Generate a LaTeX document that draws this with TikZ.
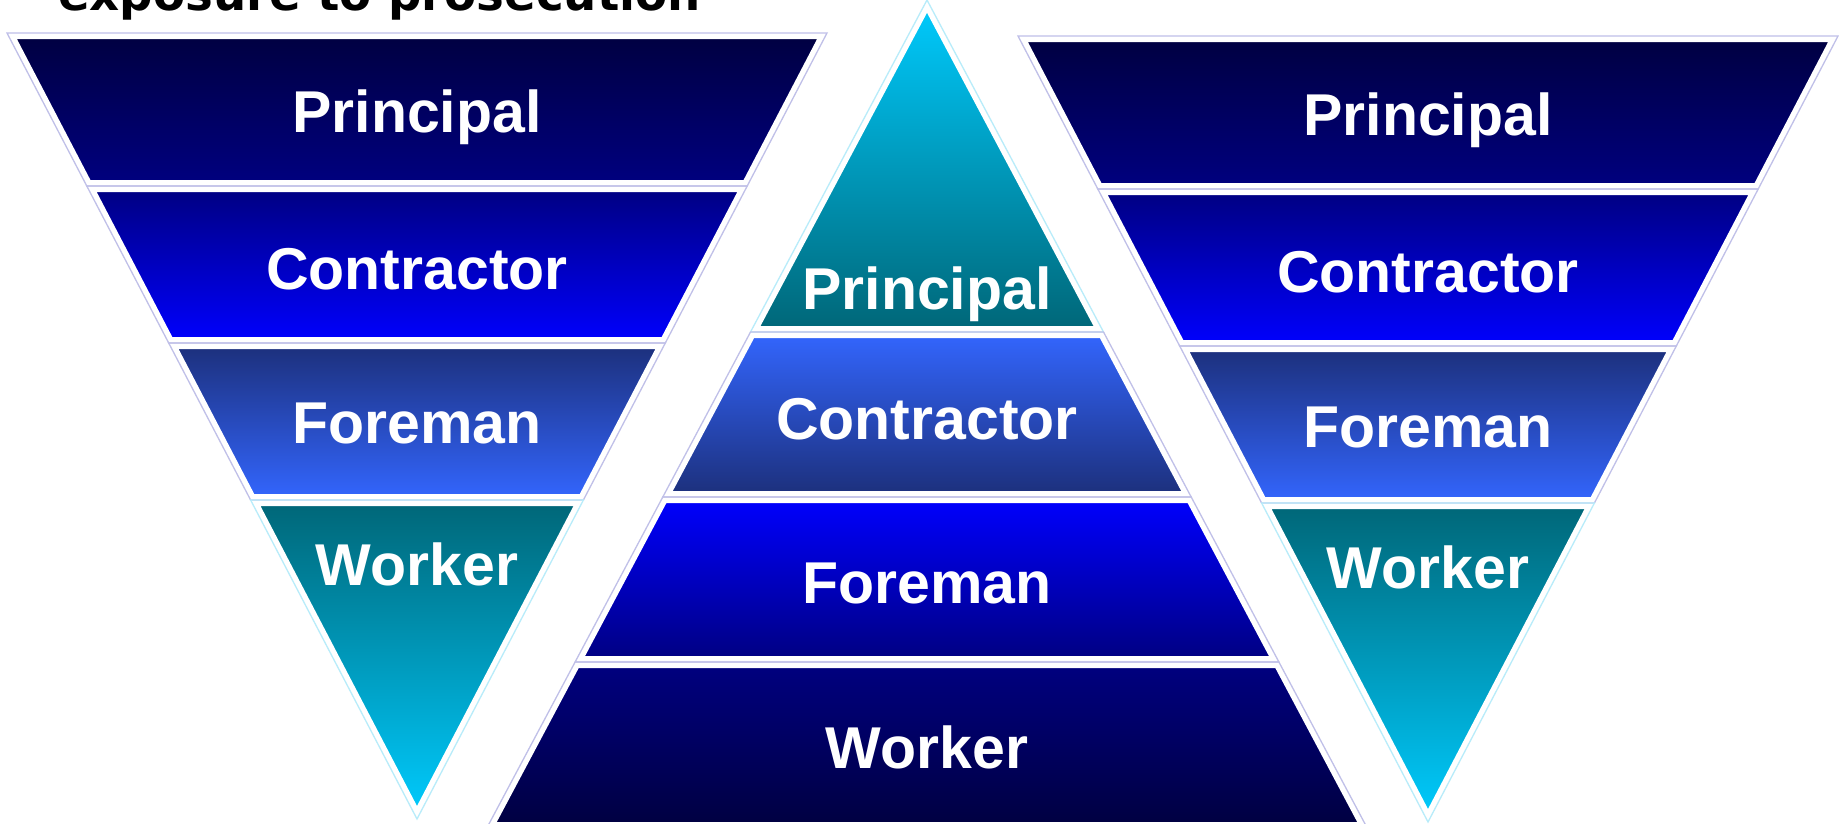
\documentclass[tikz,border=0pt]{standalone}
\usepackage{fontspec}
\setmainfont{Liberation Sans}
\newfontfamily\titlefont{DejaVu Sans}
\definecolor{cNavyD}{HTML}{000040}
\definecolor{cNavy}{HTML}{000080}
\definecolor{cBlue}{HTML}{0000FF}
\definecolor{cSlate}{HTML}{1C2F7A}
\definecolor{cRoyal}{HTML}{3366FF}
\definecolor{cTeal}{HTML}{006677}
\definecolor{cCyan}{HTML}{00CCFF}
\definecolor{rimblue}{HTML}{C0C0E8}
\definecolor{rimcyan}{HTML}{B8ECFA}
\newcommand{\invbands}{%
  \shadedraw[bandstyle, top color=cNavyD, bottom color=cNavy] (7,33) -- (827,33) -- (747.2,186) -- (86.8,186) -- cycle;
  \shadedraw[bandstyle, top color=cNavy, bottom color=cBlue] (86.8,186) -- (747.2,186) -- (665.3,343) -- (168.7,343) -- cycle;
  \shadedraw[bandstyle, top color=cSlate, bottom color=cRoyal] (168.7,343) -- (665.3,343) -- (583.4,500) -- (250.6,500) -- cycle;
  \shadedraw[bandstyle, top color=cTeal, bottom color=cCyan] (250.6,500) -- (583.4,500) -- (417,819) -- cycle;
}
\newcommand{\invrims}{%
  \draw[rimB] (7,33) -- (827,33) -- (747.2,186) -- (86.8,186) -- cycle;
  \draw[rimB] (86.8,186) -- (747.2,186) -- (665.3,343) -- (168.7,343) -- cycle;
  \draw[rimB] (168.7,343) -- (665.3,343) -- (583.4,500) -- (250.6,500) -- cycle;
  \draw[rimC] (250.6,500) -- (583.4,500) -- (417,819) -- cycle;
}
\begin{document}
\begin{tikzpicture}[x=1pt,y=-1pt,
  bandstyle/.style={draw=white, line width=12pt, line join=round},
  rimB/.style={draw=rimblue, line width=1.3pt},
  rimC/.style={draw=rimcyan, line width=1.3pt},
  lbl/.style={text=white, font=\bfseries\fontsize{59}{60}\selectfont, inner sep=0pt, anchor=base}]
\useasboundingbox (0,0) rectangle (1839,823);
\clip (0,0) rectangle (1839,823);
\fill[white] (0,0) rectangle (1839,823);
% left inverted triangle
\invbands
% right inverted triangle
\begin{scope}[shift={(1011,3)}]
  \invbands
\end{scope}
% middle pyramid
\shadedraw[bandstyle, top color=cCyan, bottom color=cTeal] (927,0) -- (1103.5,332) -- (750.5,332) -- cycle;
\shadedraw[bandstyle, top color=cRoyal, bottom color=cSlate] (750.5,332) -- (1103.5,332) -- (1191.2,497) -- (662.8,497) -- cycle;
\shadedraw[bandstyle, top color=cBlue, bottom color=cNavy] (662.8,497) -- (1191.2,497) -- (1278.9,662) -- (575.1,662) -- cycle;
\shadedraw[bandstyle, top color=cNavy, bottom color=cNavyD] (575.1,662) -- (1278.9,662) -- (1367.2,828) -- (486.8,828) -- cycle;
% rims
\invrims
\begin{scope}[shift={(1011,3)}]
  \invrims
\end{scope}
\draw[rimC] (927,0) -- (1103.5,332) -- (750.5,332) -- cycle;
\draw[rimB] (750.5,332) -- (1103.5,332) -- (1191.2,497) -- (662.8,497) -- cycle;
\draw[rimB] (662.8,497) -- (1191.2,497) -- (1278.9,662) -- (575.1,662) -- cycle;
\draw[rimB] (575.1,662) -- (1278.9,662) -- (1367.2,828) -- (486.8,828) -- cycle;
% labels
\node[lbl] (lP) at (417,132) {Principal};
\node[lbl] (lC) at (417,289) {Contractor};
\node[lbl] (lF) at (417,443) {Foreman};
\node[lbl] (lW) at (417,585) {Worker};
\node[lbl] (mP) at (927,309) {Principal};
\node[lbl] (mC) at (927,439) {Contractor};
\node[lbl] (mF) at (927,603) {Foreman};
\node[lbl] (mW) at (927,768) {Worker};
\node[lbl] (rP) at (1428,135) {Principal};
\node[lbl] (rC) at (1428,292) {Contractor};
\node[lbl] (rF) at (1428,447) {Foreman};
\node[lbl] (rW) at (1428,588) {Worker};
% title (cut off at top)
\node[anchor=base west, inner sep=0pt, font=\titlefont\bfseries\fontsize{46.7}{50}\selectfont] (title) at (58,10) {exposure to prosecution};
\end{tikzpicture}
\end{document}
